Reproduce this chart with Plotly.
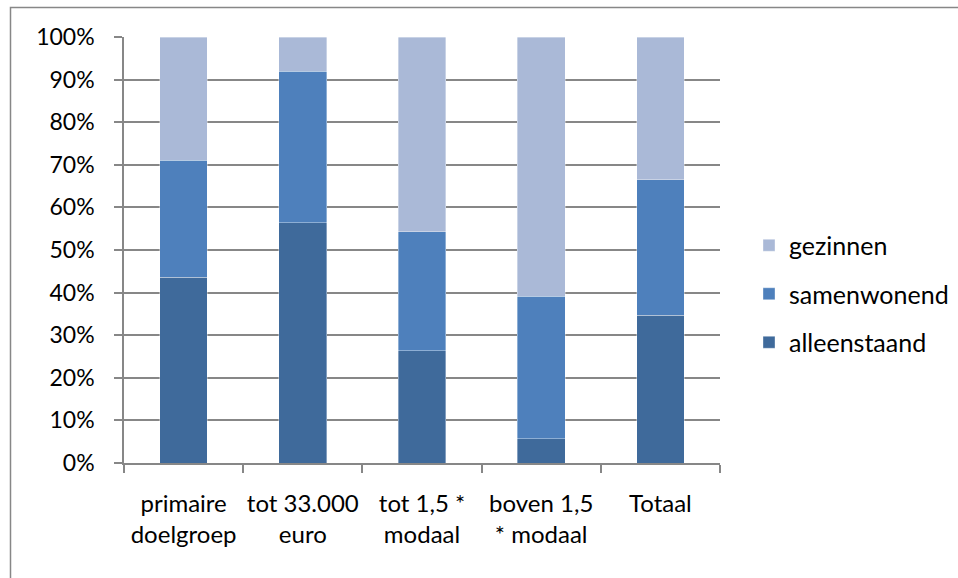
import plotly.graph_objects as go

# Household composition per income group (shares of 1)
categories = ["primaire<br>doelgroep", "tot 33.000<br>euro", "tot 1,5 *<br>modaal",
              "boven 1,5<br>* modaal", "Totaal"]
alleenstaand = [0.436, 0.564, 0.263, 0.057, 0.347]
samenwonend = [0.275, 0.356, 0.280, 0.334, 0.318]
gezinnen = [0.289, 0.080, 0.457, 0.609, 0.335]

# (name, values, colour, legend rank) - stacked bottom to top, listed top to bottom
series = [
    ("alleenstaand", alleenstaand, "#3F6A9B", 3),
    ("samenwonend", samenwonend, "#4E80BC", 2),
    ("gezinnen", gezinnen, "#AAB9D7", 1),
]

FONT = "Lato"
GRID = "#878787"

fig = go.Figure()
for name, vals, color, rank in series:
    fig.add_trace(go.Bar(
        x=categories, y=vals, name=name,
        marker=dict(color=color, line=dict(color="rgba(255,255,255,0.45)", width=0.8)),
        legendgroup=name, legendrank=rank,
    ))

# plot area geometry in pixels
W, H = 958, 578
L, R, T, B = 124, 238, 37, 115
pw, ph = W - L - R, H - T - B

def px_to_paper_x(px):
    return (px - L) / pw

def px_to_paper_y(py):
    return (H - B - py) / ph

fig.update_layout(
    width=W, height=H,
    margin=dict(l=L, r=R, t=T, b=B, pad=0, autoexpand=False),
    barmode="stack",
    bargap=0.6,
    plot_bgcolor="white",
    paper_bgcolor="white",
    font=dict(family=FONT, size=24, color="#000000"),
    legend=dict(
        traceorder="grouped",
        tracegroupgap=13,
        x=px_to_paper_x(749), xanchor="left",
        y=px_to_paper_y(294), yanchor="middle",
        font=dict(family=FONT, size=25, color="#000000"),
        bgcolor="rgba(0,0,0,0)",
        itemclick=False,
    ),
    xaxis=dict(
        showline=True, linecolor=GRID, linewidth=1.5,
        ticks="outside", ticklen=8, tickcolor=GRID, tickwidth=1.5,
        tickson="boundaries",
        showgrid=False,
        tickangle=0, automargin=False,
        ticklabelstandoff=18,
        tickfont=dict(family=FONT, size=24),
    ),
    yaxis=dict(
        range=[0, 1], dtick=0.1, tick0=0, tickformat=".0%",
        showline=True, linecolor=GRID, linewidth=1.5,
        ticks="outside", ticklen=8, tickcolor=GRID, tickwidth=1.5,
        showgrid=True, gridcolor=GRID, gridwidth=1.5,
        zeroline=False, automargin=False,
        ticklabelstandoff=15,
        tickfont=dict(family=FONT, size=23),
    ),
    shapes=[dict(
        type="rect", xref="paper", yref="paper", layer="above",
        x0=px_to_paper_x(10.5), x1=px_to_paper_x(W + 20),
        y0=px_to_paper_y(H + 20), y1=px_to_paper_y(7.5),
        line=dict(color=GRID, width=1.5), fillcolor="rgba(0,0,0,0)",
    )],
)

fig.write_html("out.html")
